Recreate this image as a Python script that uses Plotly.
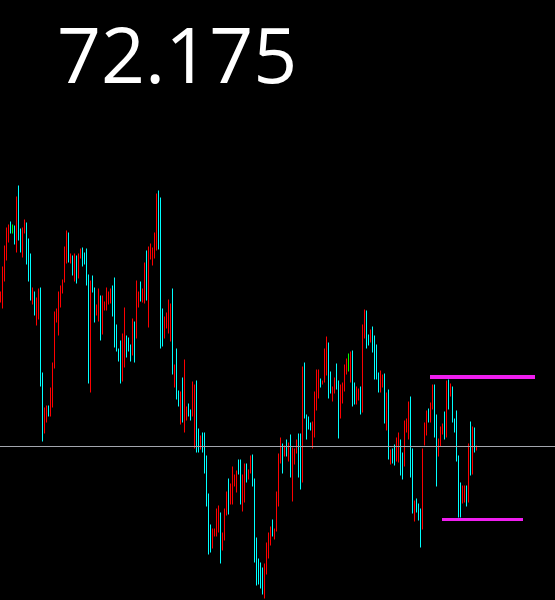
import plotly.graph_objects as go

# ---- data (bar index, highs, lows, direction) ----
current_price = 72.175
price_label = "72.175"

highs = [
    73.725, 73.975, 74.185, 74.365, 74.395, 74.425, 74.395, 74.385, 74.675, 74.785,
    74.355, 74.365, 74.445, 74.415, 74.255, 74.105, 73.765, 73.725, 73.665, 73.755,
    73.765, 72.915, 72.565, 72.585, 72.585, 72.765, 73.015, 73.525, 73.555, 73.725,
    73.785, 73.845, 74.175, 74.335, 74.315, 74.105, 74.085, 74.105, 74.085, 74.105,
    74.155, 74.165, 74.115, 74.155, 73.895, 73.835, 73.885, 73.765, 73.595, 73.755,
    73.685, 73.685, 73.625, 73.765, 73.725, 73.755, 73.785, 73.865, 73.395, 73.155,
    73.235, 73.305, 73.565, 73.285, 73.265, 73.195, 73.455, 73.425, 73.835, 73.725,
    73.825, 73.755, 74.015, 74.135, 74.175, 74.205, 74.165, 74.315, 74.705, 74.735,
    74.665, 73.555, 73.475, 73.515, 73.645, 73.605, 73.755, 72.995, 73.155, 72.735,
    72.725, 72.865, 73.045, 72.575, 72.605, 72.545, 72.825, 72.795, 72.835, 72.355,
    72.285, 72.315, 72.315, 72.085, 71.705, 71.395, 71.355, 71.355, 71.555, 71.585,
    71.515, 71.315, 71.555, 71.725, 71.855, 71.805, 71.975, 71.895, 71.935, 72.045,
    72.045, 71.895, 72.005, 72.005, 71.945, 72.085, 72.095, 71.855, 71.265, 71.055,
    71.015, 70.965, 71.005, 71.215, 71.315, 71.375, 71.445, 71.355, 71.725, 72.105,
    72.265, 72.205, 72.185, 72.245, 72.215, 72.295, 72.165, 72.155, 72.245, 72.305,
    72.305, 72.975, 73.015, 72.495, 72.475, 72.415, 72.425, 72.725, 72.945, 72.945,
    72.855, 72.835, 73.155, 73.275, 73.215, 72.925, 72.775, 72.865, 73.005, 72.835,
    72.795, 72.815, 72.995, 73.055, 73.105, 73.125, 73.135, 72.815, 72.775, 72.755,
    72.775, 73.395, 73.545, 73.535, 73.295, 73.345, 73.375, 73.285, 73.195, 72.915,
    72.935, 72.895, 72.905, 72.715, 72.745, 72.145, 72.155, 72.195, 72.265, 72.315,
    72.245, 72.115, 72.435, 72.455, 72.625, 72.675, 72.155, 71.635, 71.655, 71.605,
    71.555, 72.155, 72.415, 72.535, 72.555, 72.615, 72.795, 72.795, 72.495, 72.255,
    72.375, 72.405, 72.525, 72.835, 72.845, 72.805, 72.775, 72.455, 72.535, 72.085,
    71.815, 71.785, 71.785, 71.785, 72.205, 72.425, 72.375, 72.365, 72.185,
]

lows = [
    73.615, 73.555, 73.825, 74.035, 74.215, 74.305, 74.305, 74.195, 74.115, 74.235,
    74.115, 74.065, 74.305, 73.995, 73.825, 73.635, 73.595, 73.485, 73.385, 73.445,
    72.775, 72.225, 72.305, 72.415, 72.475, 72.475, 72.565, 72.955, 73.415, 73.285,
    73.565, 73.705, 73.815, 74.005, 74.015, 74.005, 73.885, 73.825, 73.805, 73.855,
    74.055, 73.975, 73.995, 73.785, 72.805, 72.715, 73.715, 73.415, 73.485, 73.425,
    73.235, 73.295, 73.535, 73.535, 73.595, 73.605, 73.475, 73.165, 73.125, 73.025,
    72.805, 72.825, 72.965, 73.065, 73.125, 73.025, 73.085, 73.015, 73.255, 73.565,
    73.625, 73.615, 73.605, 73.635, 73.365, 74.045, 73.985, 74.055, 74.135, 74.145,
    73.155, 73.175, 73.255, 73.355, 73.305, 73.225, 72.895, 72.765, 72.645, 72.575,
    72.395, 72.415, 72.315, 72.435, 72.475, 72.435, 72.475, 72.155, 72.115, 72.115,
    72.145, 72.115, 71.905, 71.575, 71.095, 71.115, 71.155, 71.275, 71.275, 71.315,
    71.005, 71.135, 71.235, 71.485, 71.495, 71.595, 71.595, 71.775, 71.715, 71.895,
    71.595, 71.525, 71.615, 71.815, 71.845, 71.905, 71.775, 71.015, 70.785, 70.795,
    70.755, 70.695, 70.655, 70.895, 71.055, 71.185, 71.275, 71.245, 71.325, 71.575,
    72.005, 71.905, 72.075, 72.075, 72.025, 71.865, 71.625, 71.995, 72.105, 71.865,
    71.745, 71.815, 72.455, 72.245, 72.345, 72.335, 72.155, 72.265, 72.535, 72.655,
    72.765, 72.795, 72.815, 72.885, 72.655, 72.705, 72.625, 72.705, 72.745, 72.255,
    72.455, 72.605, 72.725, 72.895, 72.925, 72.815, 72.575, 72.595, 72.595, 72.635,
    72.495, 72.515, 73.255, 73.155, 73.185, 73.215, 73.115, 72.845, 72.845, 72.715,
    72.715, 72.765, 72.405, 72.335, 72.045, 71.995, 72.005, 71.985, 72.025, 72.015,
    71.885, 71.845, 71.975, 72.315, 72.245, 71.865, 71.505, 71.425, 71.515, 71.435,
    71.165, 71.345, 72.185, 72.285, 72.415, 72.415, 72.545, 72.265, 71.775, 72.075,
    72.175, 72.295, 72.245, 72.265, 72.545, 72.675, 72.415, 72.315, 72.025, 71.465,
    71.465, 71.605, 71.615, 71.575, 71.615, 71.885, 71.895, 72.115, 72.135,
]

# u = up bar (red), d = down bar (cyan), n = unchanged (green)
directions = "".join([
    "uuuuudndud", "duuddduduu", "dduuduuuuu", "uuuudududu", "uddddudduu",
    "duuuuudddd", "duuddduduu", "duuduuuuud", "dduuuududd", "uduudduudd",
    "uddddduuuu", "duuuduuuud", "duuduudddd", "dduuuuduuu", "udududuuud",
    "dudddduuuu", "duuudduudd", "uuuunudduu", "duuddudddd", "uudududduu",
    "dduuuddudd", "duuuduuddu", "uudududddd", "duudududu",
])

# horizontal level lines (price, start bar, end bar)
level_prices = [72.87, 71.445]
level_start = [214.75, 220.75]
level_end = [267.25, 261.25]
level_widths = [4, 3]

n_bars = len(highs)
bar_index = list(range(n_bars))

colors = {"u": "#ff0000", "d": "#00ffff", "n": "#00ff00"}

fig = go.Figure()

for code, col in colors.items():
    xs, ys = [], []
    for i in bar_index:
        if directions[i] == code:
            xs += [i, i, None]
            ys += [lows[i], highs[i], None]
    fig.add_trace(go.Scatter(
        x=xs, y=ys, mode="lines",
        line=dict(color=col, width=1),
        hoverinfo="skip", showlegend=False,
    ))

# current price line
fig.add_trace(go.Scatter(
    x=[-10, 400], y=[current_price, current_price], mode="lines",
    line=dict(color="#a3a6ae", width=1),
    hoverinfo="skip", showlegend=False,
))

for p, x0, x1, w in zip(level_prices, level_start, level_end, level_widths):
    fig.add_trace(go.Scatter(
        x=[x0, x1], y=[p, p], mode="lines",
        line=dict(color="#f01ef0", width=w),
        hoverinfo="skip", showlegend=False,
    ))

fig.add_annotation(
    text=price_label, xref="paper", yref="paper",
    x=176.5 / 555, y=1 - 54 / 600, xanchor="center", yanchor="middle",
    showarrow=False,
    font=dict(family="Comic Sans MS, Open Sans, sans-serif", size=77, color="#ffffff"),
)

fig.update_layout(
    width=555, height=600,
    margin=dict(l=0, r=0, t=0, b=0),
    paper_bgcolor="#000000", plot_bgcolor="#000000",
    xaxis=dict(range=[-0.25, 277.25], visible=False, showgrid=False, zeroline=False, fixedrange=True),
    yaxis=dict(range=[70.64, 76.64], visible=False, showgrid=False, zeroline=False, fixedrange=True),
    showlegend=False,
)

fig.write_html(
    "out.html",
    config={"displayModeBar": False},
    post_script="document.body.style.margin='0';document.body.style.background='#000';",
)
